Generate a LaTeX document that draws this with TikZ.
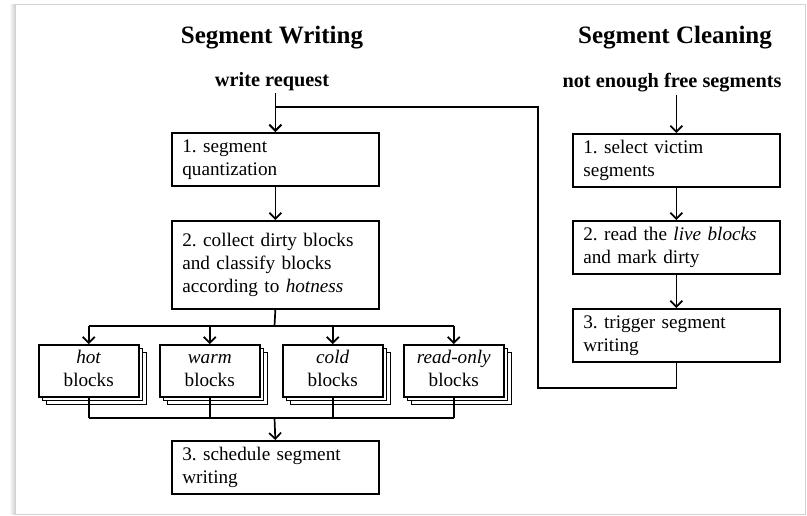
\documentclass[tikz,border=0pt]{standalone}
\usepackage{fontspec}
\setmainfont{Liberation Serif}
\frenchspacing
\usetikzlibrary{arrows.meta}
\usetikzlibrary{shadows}

\tikzset{
  flow/.style={line width=1.7pt},
  flowarr/.style={line width=1.7pt, -{Straight Barb[length=6pt,width=12pt,line width=1.7pt]}},
  stepbox/.style={draw, line width=1.7pt, anchor=north west, minimum width=207pt, minimum height=53pt,
    text width=186pt, align=left, inner sep=0pt, font=\fontsize{19.2}{23}\selectfont},
  blockstack/.style={draw, fill=white, line width=1.5pt, anchor=north west, minimum width=100pt,
    minimum height=52pt, inner sep=0pt, align=center, font=\fontsize{19.2}{23}\selectfont,
    copy shadow={shadow xshift=8pt, shadow yshift=-8pt, line width=1.1pt},
    copy shadow={shadow xshift=4pt, shadow yshift=-4pt, line width=1.1pt}},
  coltitle/.style={font=\fontsize{25}{29}\selectfont\bfseries},
  trigger/.style={font=\fontsize{20.3}{24}\selectfont\bfseries, inner sep=2pt},
}

\begin{document}
\begin{tikzpicture}[x=1pt, y=-1pt]

\useasboundingbox (0,0) rectangle (807,515);
% frame
\shade[left color=white, right color=gray!35] (9,4) rectangle (15,514);
\draw[gray!35, line width=0.8pt] (15,4) rectangle (805,514);

% titles
\node[coltitle] (wtitle) at (272,38) {Segment Writing};
\node[coltitle] (ctitle) at (675,38) {Segment Cleaning};
\node[trigger] (wreq) at (272,82) {write request};
\node[trigger] (nefs) at (672,83) {not enough free segments};

% segment writing
\node[stepbox] (segq) at (171,132) {1. segment\\quantization};
\node[stepbox, minimum height=88pt] (collect) at (171,220) {2. collect dirty blocks\\and classify blocks\\according to \textit{hotness}};
\node[blockstack] (hot) at (38,344) {\strut\textit{hot}\\blocks\strut};
\node[blockstack] (warm) at (159,344) {\strut\textit{warm}\\blocks\strut};
\node[blockstack] (cold) at (282,344) {\strut\textit{cold}\\blocks\strut};
\node[blockstack] (ronly) at (403,344) {\strut\textit{read-only}\\blocks\strut};
\node[stepbox] (sched) at (171,440) {3. schedule segment\\writing};

% segment cleaning
\node[stepbox] (victim) at (572,133) {1. select victim\\segments};
\node[stepbox] (live) at (572,220) {2. read the \textit{live blocks}\\and mark dirty};
\node[stepbox] (trig) at (572,308) {3. trigger segment\\writing};

\coordinate (split) at (274.5,326);
\coordinate (join) at (274.5,418);
\coordinate (fb) at (538,107);

\draw[flowarr] (segq.north |- wreq.south) -- (segq.north);
\draw[flowarr] (segq.south) -- (collect.north);
\draw[flow] (collect.south) -- (split);
\draw[flow] (hot.north |- split) -- (ronly.north |- split);
\foreach \b in {hot,warm,cold,ronly}
  \draw[flowarr] (\b.north |- split) -- (\b.north);
\foreach \b in {hot,warm,cold,ronly}
  \draw[flow] (\b.south) -- (\b.south |- join);
\draw[flow] (hot.south |- join) -- (ronly.south |- join);
\draw[flowarr] (join) -- (sched.north);

\draw[flowarr] (victim.north |- nefs.south) -- (victim.north);
\draw[flowarr] (victim.south) -- (live.north);
\draw[flowarr] (live.south) -- (trig.north);
\draw[flowarr] (trig.south) -- ++(0,25) -| (fb) -| (segq.north);

\end{tikzpicture}
\end{document}
